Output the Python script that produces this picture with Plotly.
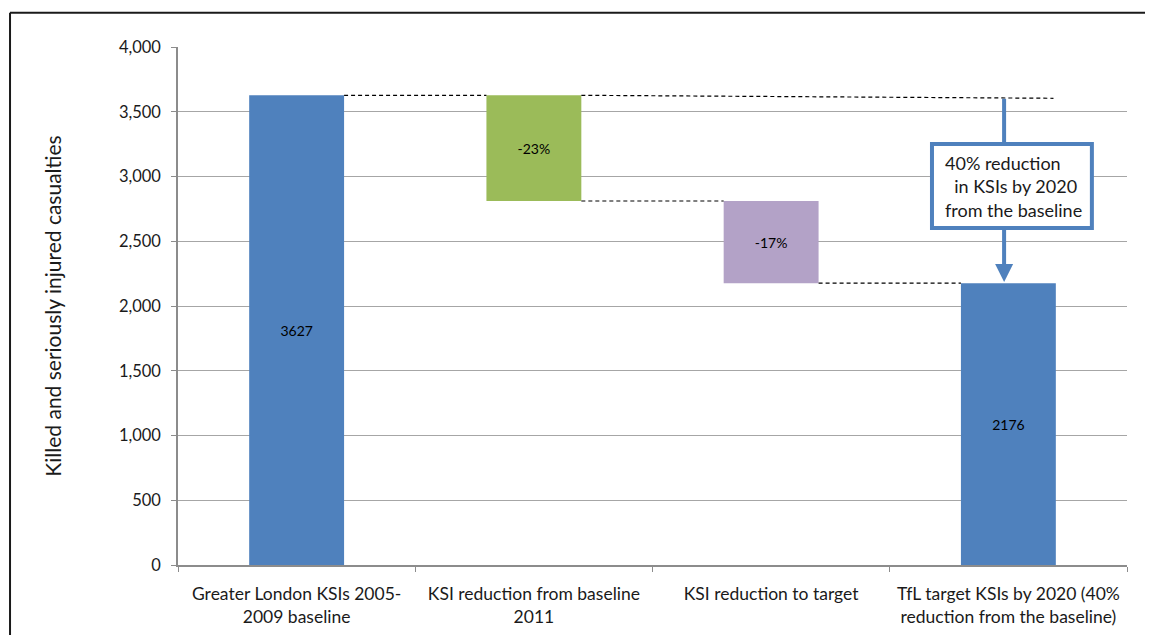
import plotly.graph_objects as go

categories = [
    "Greater London KSIs 2005-<br>2009 baseline",
    "KSI reduction from baseline<br>2011",
    "KSI reduction to target",
    "TfL target KSIs by 2020 (40%<br>reduction from the baseline)",
]
bar_bottoms = [0, 2811, 2176, 0]
bar_tops = [3627, 3627, 2811, 2176]
bar_labels = ["3627", "-23%", "-17%", "2176"]
bar_colors = ["#4F81BD", "#9BBB59", "#B3A2C7", "#4F81BD"]
callout_text = "40% reduction<br>  in KSIs by 2020<br>from the baseline"
y_ticks = [0, 500, 1000, 1500, 2000, 2500, 3000, 3500, 4000]

FONT = "Lato, 'Open Sans', sans-serif"
BLUE = "#4F81BD"

fig = go.Figure()
fig.add_trace(go.Bar(
    x=categories,
    y=[t - b for t, b in zip(bar_tops, bar_bottoms)],
    base=bar_bottoms,
    marker=dict(color=bar_colors, line=dict(width=0)),
    text=bar_labels,
    textposition="inside",
    insidetextanchor="middle",
    textangle=0,
    textfont=dict(family=FONT, size=14, color="#000000"),
    width=0.4,
    hoverinfo="skip",
))

bw = 0.2
dash_style = dict(color="#000000", width=1.2, dash="4px,3px")
connectors = [
    (0 + bw, bar_tops[0], 1 - bw, bar_tops[1]),
    (1 + bw, bar_tops[1], 3.19, 3604),
    (1 + bw, bar_bottoms[1], 2 - bw, bar_tops[2]),
    (2 + bw, bar_bottoms[2], 3 - bw, bar_tops[3]),
]
for x0, y0, x1, y1 in connectors:
    fig.add_shape(type="line", xref="x", yref="y", x0=x0, y0=y0, x1=x1, y1=y1,
                  line=dash_style, layer="above")

# callout arrow
ax_x = 2.982
fig.add_shape(type="line", xref="x", yref="y", x0=ax_x, x1=ax_x, y0=3600, y1=3251,
              line=dict(color=BLUE, width=4), layer="above")
fig.add_annotation(x=ax_x, y=bar_tops[3] + 10, ax=ax_x, ay=2602,
                   xref="x", yref="y", axref="x", ayref="y",
                   showarrow=True, arrowhead=2, arrowsize=0.9, arrowwidth=4,
                   arrowcolor=BLUE, text="")
fig.add_shape(type="rect", xref="x", yref="y", x0=2.678, x1=3.352, y0=2602, y1=3251,
              line=dict(color=BLUE, width=4), fillcolor="white", layer="above")
fig.add_annotation(x=2.725, y=2926, xref="x", yref="y", xanchor="left", yanchor="middle",
                   text=callout_text, showarrow=False, align="left",
                   font=dict(family=FONT, size=18, color="#1a1a1a"))

# outer frame (only top/left visible)
fig.add_shape(type="line", xref="paper", yref="paper", x0=-0.177, x1=1.1, y0=1.066, y1=1.066,
              line=dict(color="#1a1a1a", width=2))
fig.add_shape(type="line", xref="paper", yref="paper", x0=-0.177, x1=-0.177, y0=1.066, y1=-0.3,
              line=dict(color="#1a1a1a", width=2))

fig.update_layout(
    width=1145, height=627,
    margin=dict(l=170, r=26, t=39, b=70),
    paper_bgcolor="white", plot_bgcolor="white",
    showlegend=False,
    font=dict(family=FONT, size=17, color="#1a1a1a"),
    bargap=0.6,
)
fig.update_xaxes(
    type="category", range=[-0.5, 3.5], automargin=False,
    showline=True, linecolor="#8c8c8c", linewidth=1.5,
    ticks="outside", tickson="boundaries", ticklen=5, tickcolor="#8c8c8c",
    tickfont=dict(family=FONT, size=17.5, color="#1a1a1a"),
    ticklabelstandoff=12,
    showgrid=False,
)
fig.update_yaxes(
    range=[0, 4000], tickvals=y_ticks, tickformat=",", automargin=False,
    showline=True, linecolor="#8c8c8c", linewidth=1.5,
    ticks="outside", ticklen=5, tickcolor="#8c8c8c",
    showgrid=True, gridcolor="#a6a6a6", gridwidth=1,
    zeroline=False,
    tickfont=dict(family=FONT, size=16.5, color="#1a1a1a"),
    ticklabelstandoff=7,
    title=dict(text="Killed and seriously injured casualties",
               font=dict(family=FONT, size=21, color="#1a1a1a"), standoff=52),
)

fig.write_html("out.html")
